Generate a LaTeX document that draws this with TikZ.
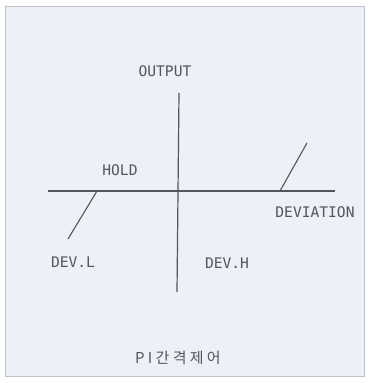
\documentclass[tikz,border=0pt]{standalone}
\usepackage{fontspec}
\setmonofont{DejaVu Sans Mono}
\newfontfamily\cjk[LetterSpace=22]{Noto Sans CJK KR}
\definecolor{panelBg}{RGB}{238,240,247}
\definecolor{panelEdge}{RGB}{190,194,204}
\definecolor{inkGray}{RGB}{85,85,90}
\usetikzlibrary{positioning}

\begin{document}
\begin{tikzpicture}[
  x=1pt, y=-1pt,
  lbl/.style={font=\ttfamily\fontsize{14.6}{14.6}\selectfont, text=inkGray, inner sep=0pt},
  axis/.style={draw=inkGray, line width=1.2pt},
  slope/.style={draw=inkGray, line width=1.1pt}
]
  % page and panel
  \useasboundingbox (0,0) rectangle (372,383);
  \fill[white] (0,0) rectangle (372,383);
  \filldraw[fill=panelBg, draw=panelEdge, line width=1pt] (5,6) rectangle (364,376);

  % axes
  \coordinate (outTop) at (179,93);
  \coordinate (outBot) at (177,292);
  \coordinate (devL)   at (48,191);
  \coordinate (devR)   at (335,191);
  \draw[axis] (outTop) -- (outBot);
  \draw[axis] (devL) -- (devR);

  % hold band edges
  \coordinate (lowKnee)  at (97,191);
  \coordinate (lowEnd)   at (68,239);
  \coordinate (highKnee) at (280,191);
  \coordinate (highEnd)  at (307,143);
  \draw[slope] (lowKnee) -- (lowEnd);
  \draw[slope] (highKnee) -- (highEnd);

  % labels
  \node[lbl] (output)    at (165,71)  {OUTPUT};
  \node[lbl] (hold)      at (120,170) {HOLD};
  \node[lbl] (deviation) at (315,212) {DEVIATION};
  \node[lbl] (devlow)    at (73,262)  {DEV.L};
  \node[lbl] (devhigh)   at (227,263) {DEV.H};
  \node[text=inkGray, font=\cjk\fontsize{15}{15}\selectfont, inner sep=0pt] (title) at (178,358) {PI간격제어};
\end{tikzpicture}
\end{document}
